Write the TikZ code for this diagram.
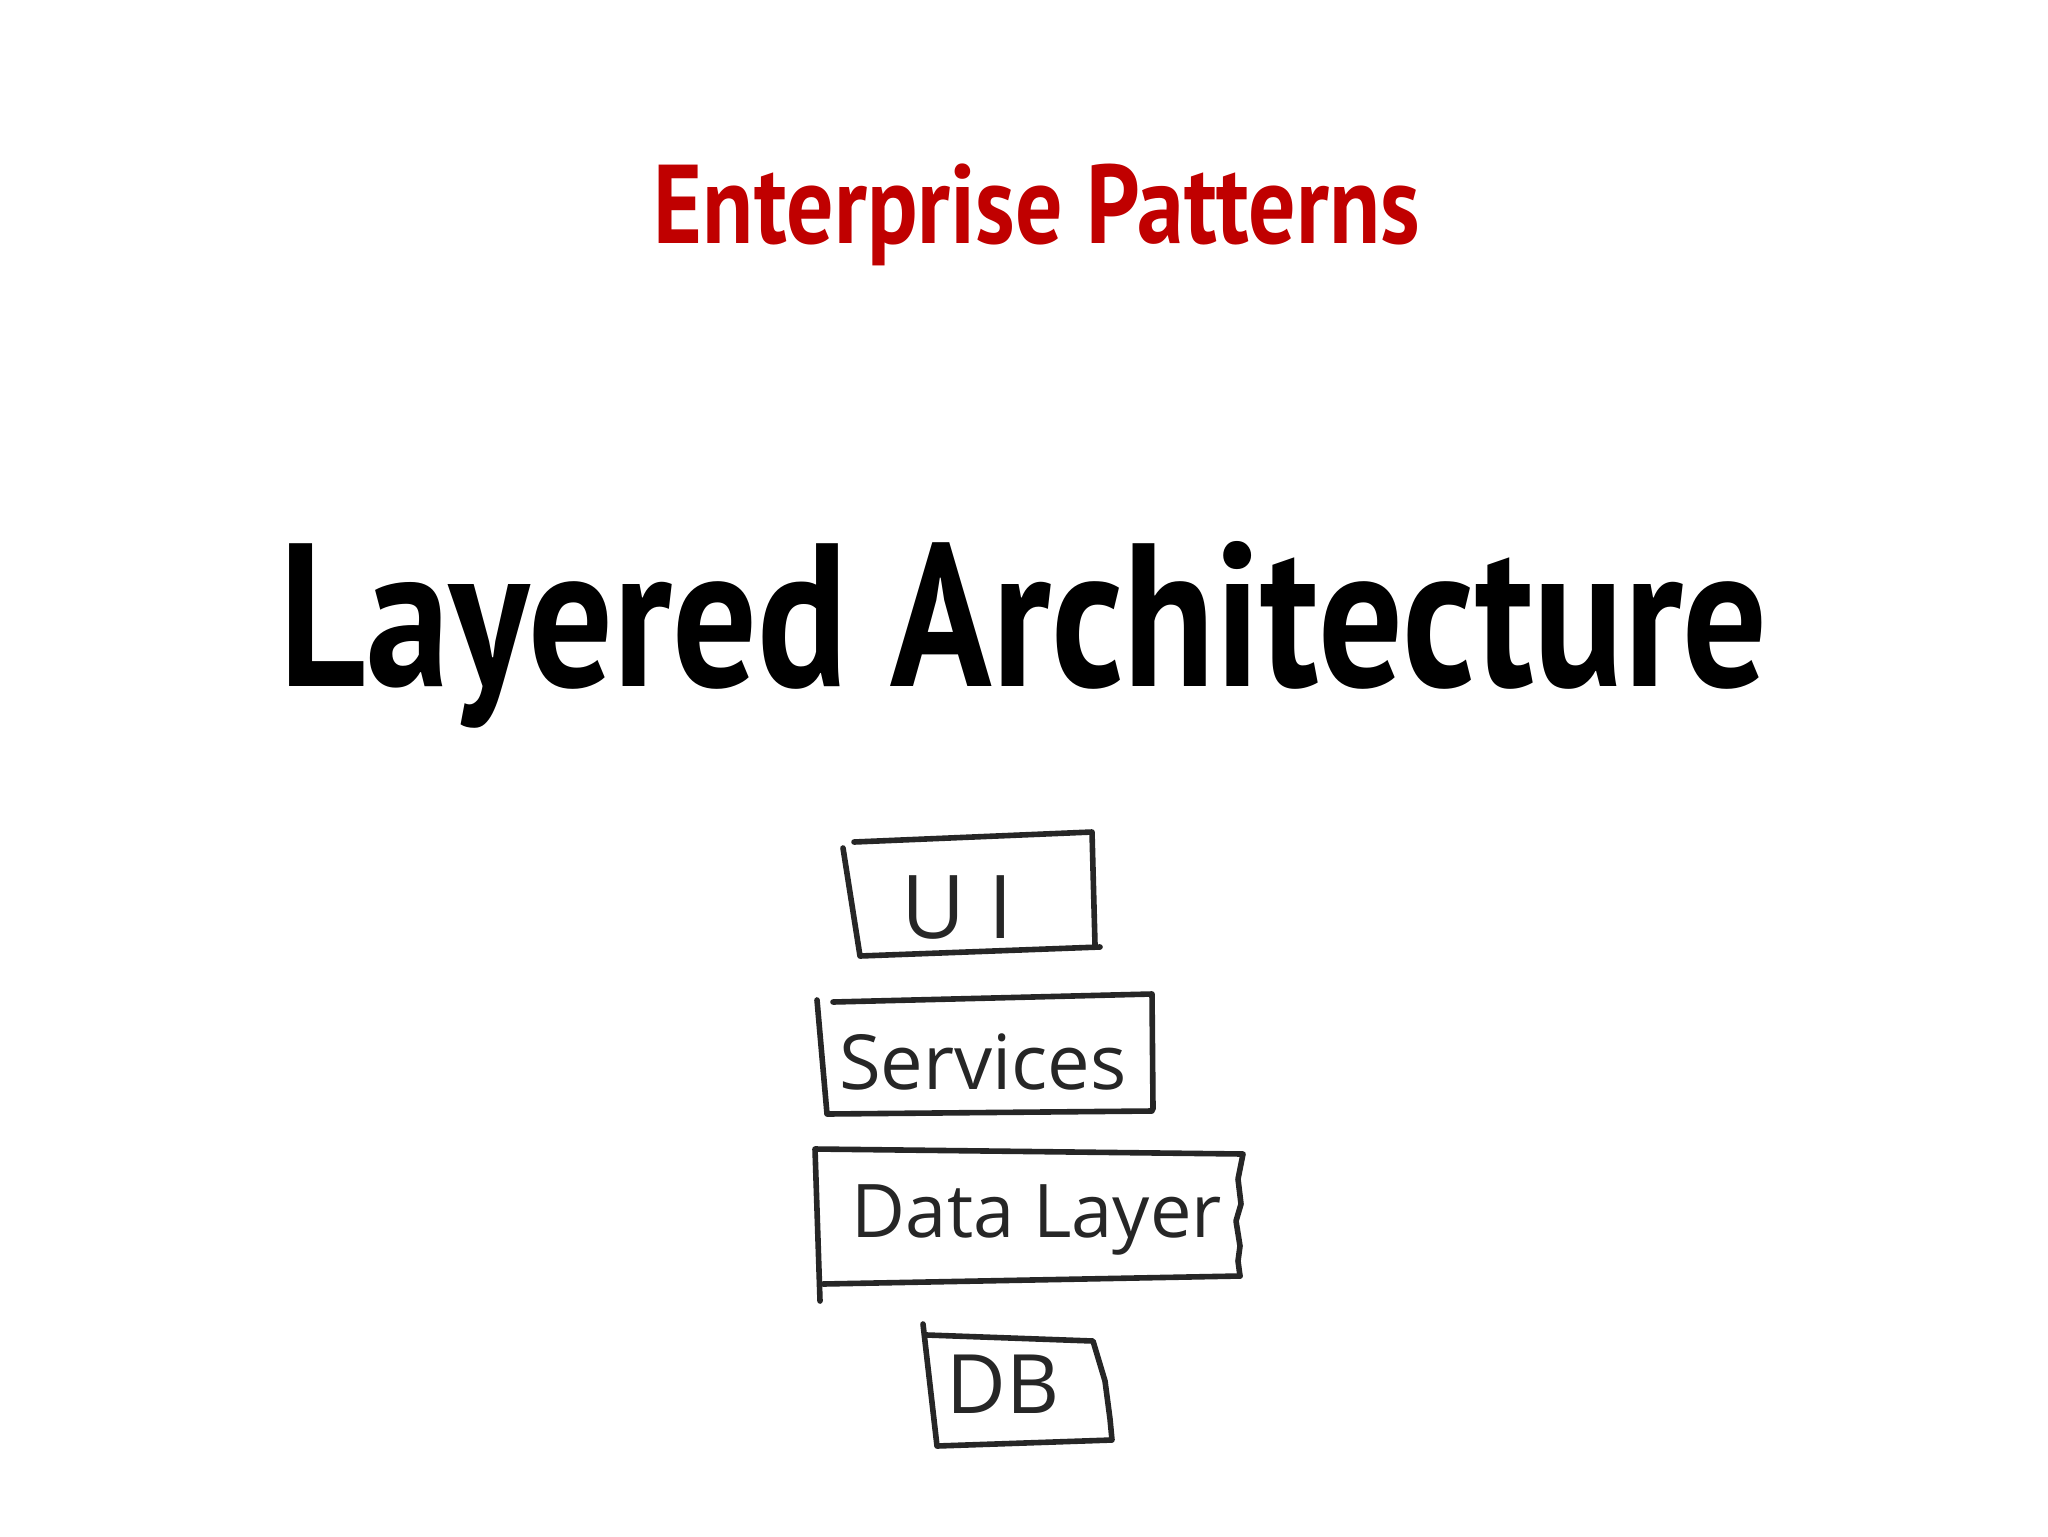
\documentclass[tikz,border=0pt]{standalone}
\usepackage{fontspec}
\usepackage{graphicx}
\usepackage{xcolor}
\usetikzlibrary{positioning}
\newfontfamily\titlefont{PT Sans}
\newfontfamily\handfont{Open Sans}
\definecolor{slidered}{RGB}{192,0,0}
\tikzset{
  sketch/.style={line width=2.8pt, line cap=round, line join=round, black!85},
  hand/.style={font=\handfont, text=black!85, inner sep=0pt},
}

\begin{document}
\begin{tikzpicture}[x=0.5pt, y=-0.5pt]
        \useasboundingbox[fill=white] (0,0) rectangle (2048,1536);

        % titles
        \node[anchor=base, text=slidered, inner sep=0pt] (top) at (1037,243)
            {\resizebox{383pt}{\height}{\titlefont\bfseries\fontsize{56}{60}\selectfont Enterprise Patterns}};
        \node[anchor=base, inner sep=0pt] (main) at (1024,686)
            {\resizebox{744pt}{\height}{\titlefont\bfseries\fontsize{102}{110}\selectfont Layered Architecture}};

        % the sketch: four boxes
        \node[hand, font=\handfont\fontsize{44}{48}\selectfont] (ui) at (957,908) {U I};
        \draw[sketch] (843,848) -- (860,956) -- (1100,947);
        \draw[sketch] (854,842) -- (1092,832) -- (1095,945);

        \node[hand, font=\handfont\fontsize{38}{42}\selectfont] (services) at (983,1062) {Services};
        \draw[sketch] (817,1000) -- (827,1114) -- (1152,1111);
        \draw[sketch] (833,1002) -- (1152,994) -- (1153,1109);

        \node[hand, font=\handfont\fontsize{37}{42}\selectfont] (data) at (1037,1220) {Data Layer};
        \draw[sketch] (820,1301) -- (815,1149) -- (1243,1154) -- (1238,1179) -- (1241,1204)
            -- (1236,1221) -- (1240,1246) -- (1238,1261) -- (1240,1276);
        \draw[sketch] (823,1284) -- (1240,1276);

        \node[hand, font=\handfont\fontsize{41}{45}\selectfont] (db) at (1003,1384) {DB};
        \draw[sketch] (923,1324) -- (937,1446) -- (1112,1440) -- (1110,1419) -- (1105,1381)
            -- (1093,1341) -- (927,1335);
\end{tikzpicture}
\end{document}
